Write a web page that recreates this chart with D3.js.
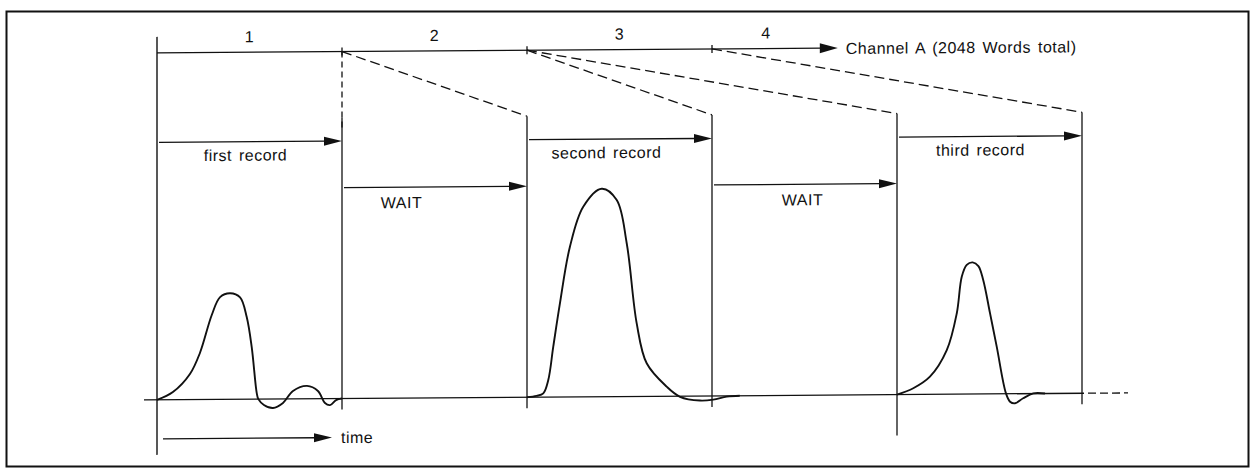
<!DOCTYPE html>
<html>
<head>
<meta charset="utf-8">
<script src="https://cdn.jsdelivr.net/npm/d3@7"></script>
<style>
  html, body { margin: 0; padding: 0; background: #fff; }
  svg { display: block; }
  text {
    font-family: "Liberation Sans", Arial, Helvetica, sans-serif;
    font-size: 16px;
    fill: #111;
    letter-spacing: 0.5px;
    word-spacing: 2px;
  }
</style>
</head>
<body>
<svg id="chart" width="1251" height="471"></svg>
<script>
// Buffer segments of Channel A, drawn along the top
const segmentLabels = ["1", "2", "3", "4"];
const channelLabel = "Channel A (2048 Words total)";

// Section boundaries on the time axis (one unit = one buffer segment)
const boundaries = [0, 1, 2, 3, 4, 5];

// Recorded windows and the waits between them
const recordLabels = ["first record", "second record", "third record"];
const recordStarts = [0, 2, 4];
const waitLabels = ["WAIT", "WAIT"];
const waitStarts = [1, 3];
const timeLabel = "time";

// Captured waveforms as [time, amplitude]
const pulse1 = [
  [0, 0], [0.086, 0.037], [0.178, 0.123], [0.232, 0.224], [0.296, 0.406],
  [0.341, 0.492], [0.395, 0.51], [0.449, 0.49], [0.485, 0.395], [0.512, 0.25],
  [0.539, 0.03], [0.548, 0], [0.578, -0.028], [0.627, -0.043], [0.681, -0.019],
  [0.735, 0.038], [0.811, 0.062], [0.870, 0.037], [0.908, -0.021],
  [0.935, -0.031], [0.968, -0.007], [1.0, 0]
];
const pulse2 = [
  [2.0, 0], [2.052, 0.006], [2.088, 0.018], [2.115, 0.082], [2.142, 0.242],
  [2.178, 0.45], [2.232, 0.722], [2.304, 0.914], [2.404, 1.0], [2.485, 0.945],
  [2.539, 0.737], [2.593, 0.351], [2.647, 0.159], [2.755, 0.046],
  [2.827, -0.003], [2.935, -0.022], [3.007, -0.018], [3.08, -0.004], [3.15, 0]
];
const pulse3 = [
  [4.0, 0], [4.088, 0.03], [4.178, 0.085], [4.269, 0.212], [4.323, 0.388],
  [4.35, 0.564], [4.377, 0.621], [4.409, 0.633], [4.44, 0.615], [4.466, 0.548],
  [4.503, 0.387], [4.539, 0.227], [4.589, 0.002], [4.611, -0.038],
  [4.638, -0.046], [4.682, -0.022], [4.737, 0.001], [4.8, 0]
];
const pulses = [pulse1, pulse2, pulse3];

// ---- layout ----
const INK = "#111";
const x = d3.scaleLinear().domain([0, 5]).range([157, 1082]);
const y = d3.scaleLinear().domain([0, 1]).range([401, 193]);

const topY = 54;          // channel line
const recordTopY = 120;   // upper end of record window edges
const recordArrowY = 143.5;
const waitArrowY = 190;
const timeArrowY = 440;
const channelArrowEnd = x(3.68);
const axisTop = 38, axisBottom = 456;
const edgeDrop = 11;                 // how far window edges pass the baseline
const longEdges = new Map([[4, 442]]);
const recordNudge = [-4, -13, -9];
const waitNudge = [-33, -2];

const svg = d3.select("#chart");

// frame
svg.append("rect")
  .attr("x", 6.5).attr("y", 11.5)
  .attr("width", 1242).attr("height", 455)
  .attr("fill", "none").attr("stroke", INK).attr("stroke-width", 2);

// the drafted diagram has a very slight downward lean to the right
const g = svg.append("g").attr("transform", "skewY(-0.41)");

function line(x1, y1, x2, y2, w = 1.3, dash = null) {
  const l = g.append("line")
    .attr("x1", x1).attr("y1", y1).attr("x2", x2).attr("y2", y2)
    .attr("stroke", INK).attr("stroke-width", w);
  if (dash) l.attr("stroke-dasharray", dash);
  return l;
}

function arrow(x1, x2, yy, len = 18, half = 4.5) {
  line(x1, yy, x2 - len + 2, yy, 1.3);
  g.append("path")
    .attr("d", `M${x2},${yy} L${x2 - len},${yy - half} L${x2 - len},${yy + half} Z`)
    .attr("fill", INK);
}

// time axis (left edge)
line(x(0), axisTop, x(0), axisBottom, 1.4);

// channel line with segment ticks and arrow
arrow(x(0), channelArrowEnd, topY, 18, 5);
boundaries.filter(b => b > 0 && x(b) < channelArrowEnd).forEach(b => {
  line(x(b), topY - 4, x(b), topY + 4, 1.3);
});

// segment numbers
segmentLabels.forEach((s, i) => {
  const a = x(i);
  const b = Math.min(x(i + 1), channelArrowEnd - 18);
  g.append("text")
    .attr("x", (a + b) / 2).attr("y", topY - 10)
    .attr("text-anchor", "middle").text(s);
});

g.append("text")
  .attr("x", channelArrowEnd + 8).attr("y", topY + 6)
  .text(channelLabel);

// record window edges
boundaries.forEach(b => {
  if (b === 0) return;
  const bottom = longEdges.has(b) ? longEdges.get(b) : y(0) + edgeDrop;
  line(x(b), recordTopY, x(b), bottom, 1.3);
});

// dashed mapping from buffer segment to record window
recordStarts.forEach((s, k) => {
  if (k !== s) line(x(k), topY, x(s), recordTopY, 1.3, "10,5");
  if (k + 1 === s + 1) {
    // same position: a plain dashed drop onto the window edge
    line(x(k + 1), topY, x(s + 1), recordTopY + 10, 1.3, "6,4");
  } else {
    line(x(k + 1), topY, x(s + 1), recordTopY, 1.3, "10,5");
  }
});

// record and wait arrows with their labels
recordStarts.forEach((s, i) => {
  arrow(x(s) + 2, x(s + 1), recordArrowY);
  g.append("text")
    .attr("x", (x(s) + x(s + 1)) / 2 + recordNudge[i])
    .attr("y", recordArrowY + 19)
    .attr("text-anchor", "middle").text(recordLabels[i]);
});
waitStarts.forEach((s, i) => {
  arrow(x(s) + 2, x(s + 1), waitArrowY);
  g.append("text")
    .attr("x", (x(s) + x(s + 1)) / 2 + waitNudge[i])
    .attr("y", waitArrowY + 21)
    .attr("text-anchor", "middle").text(waitLabels[i]);
});

// baseline, continuing dashed past the last window
line(x(0) - 13, y(0), x(5) + 2, y(0), 1.3);
line(x(5) + 6, y(0), x(5) + 46, y(0), 1.3, "8,4");

// waveforms
const path = d3.line()
  .x(d => x(d[0])).y(d => y(d[1]))
  .curve(d3.curveCatmullRom.alpha(0.5));
g.selectAll("path.pulse")
  .data(pulses)
  .join("path")
  .attr("class", "pulse")
  .attr("d", path)
  .attr("fill", "none")
  .attr("stroke", INK)
  .attr("stroke-width", 1.9)
  .attr("stroke-linejoin", "round");

// time direction arrow
arrow(x(0) + 6, x(1) - 10, timeArrowY);
g.append("text")
  .attr("x", x(1) - 1).attr("y", timeArrowY + 5.5)
  .text(timeLabel);
</script>
</body>
</html>
